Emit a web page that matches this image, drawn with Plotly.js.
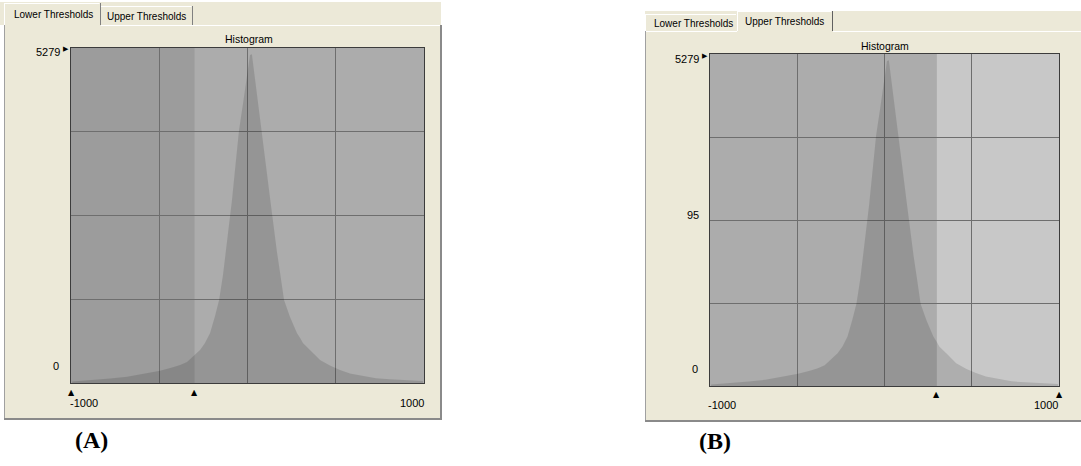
<!DOCTYPE html>
<html>
<head>
<meta charset="utf-8">
<script src="https://cdn.plot.ly/plotly-3.0.1.min.js"></script>
<style>
  html, body { margin: 0; padding: 0; background: #ffffff; }
  #chart { width: 1081px; height: 466px; }
</style>
</head>
<body>
<div id="chart"></div>
<script>
// ---------------- data ----------------
const histValue = [-994, -875, -779, -683, -581, -496, -428, -382, -343, -303, -269, -241, -212, -184, -161, -139, -122, -99, -88, -71, -48, -25, -3, 14, 25, 42, 59, 82, 105, 127, 144, 167, 184, 207, 241, 280, 300, 314, 354, 411, 467, 524, 581, 637, 728, 807, 892, 994];
const histCount = [24, 47, 71, 99, 150, 194, 244, 284, 331, 425, 520, 630, 788, 1056, 1308, 1702, 2096, 2569, 2884, 3357, 3987, 4413, 4854, 5169, 5180, 4822, 4460, 3987, 3420, 2931, 2537, 2065, 1749, 1308, 1040, 788, 700, 630, 520, 362, 276, 205, 150, 118, 74, 58, 44, 32];

const xRange = [-1000, 1000];
const yAxisMax = 5279;
const xTickLabels = ['-1000', '1000'];
const yTickLabelsA = ['5279', '0'];
const yTickLabelsB = ['5279', '95', '0'];
const lowerThresholds = [-1000, -300];
const upperThresholds = [300, 1000];
const tabLabels = ['Lower Thresholds', 'Upper Thresholds'];
const chartTitle = 'Histogram';
const panelLabels = ['(A)', '(B)'];

// ---------------- layout helpers ----------------
const W = 1081, H = 466;
const fx = p => p / W;
const fy = p => 1 - p / H;

const BEIGE = '#ece9d8';
const GRID = '#6e6e6e';
const FRAME = '#3c3c3c';
const HISTFILL = 'rgba(0,0,0,0.13)';
const UI_FONT = 'Liberation Sans, Arial, sans-serif';
const SYM_FONT = 'DejaVu Sans, sans-serif';
const SERIF_FONT = 'Liberation Serif';

function histTrace(xa, ya) {
  return {
    type: 'scatter', mode: 'lines',
    x: histValue, y: histCount,
    xaxis: xa, yaxis: ya,
    fill: 'tozeroy', fillcolor: HISTFILL,
    line: { width: 0, color: 'rgba(0,0,0,0)' },
    hoverinfo: 'skip'
  };
}

function xAxis(dom, anchor) {
  return {
    domain: dom, range: xRange, anchor: anchor,
    tickvals: [-500, 0, 500], showticklabels: false, ticks: '',
    showgrid: true, gridcolor: GRID, gridwidth: 1, zeroline: false,
    showline: true, mirror: true, linecolor: FRAME, linewidth: 1, fixedrange: true
  };
}
function yAxis(dom, anchor) {
  return {
    domain: dom, range: [0, yAxisMax], anchor: anchor,
    tickvals: [0.25, 0.5, 0.75].map(f => f * yAxisMax), showticklabels: false, ticks: '',
    showgrid: true, gridcolor: GRID, gridwidth: 1, zeroline: false,
    showline: true, mirror: true, linecolor: FRAME, linewidth: 1, fixedrange: true
  };
}

function rectPx(x0, y0, x1, y1, color) {
  return { type: 'rect', xref: 'paper', yref: 'paper', layer: 'below',
    x0: fx(x0), x1: fx(x1), y0: fy(y1), y1: fy(y0),
    fillcolor: color, line: { width: 0 } };
}
function linePx(x0, y0, x1, y1, color, w) {
  return { type: 'line', xref: 'paper', yref: 'paper', layer: 'below',
    x0: fx(x0), x1: fx(x1), y0: fy(y0), y1: fy(y1),
    line: { color: color, width: w || 1 } };
}

const shapes = [
  // panel A background + tab strip
  rectPx(0, 2, 441, 25, BEIGE),
  rectPx(4, 25, 441, 419, BEIGE),
  // panel B background + tab strip
  rectPx(645, 11, 1081, 31, BEIGE),
  rectPx(645, 31, 1081, 421, BEIGE),
  // plot areas
  { type: 'rect', xref: 'x domain', yref: 'y domain', layer: 'below', x0: 0, x1: 1, y0: 0, y1: 1, fillcolor: '#acacac', line: { width: 0 } },
  { type: 'rect', xref: 'x2 domain', yref: 'y2 domain', layer: 'below', x0: 0, x1: 1, y0: 0, y1: 1, fillcolor: '#acacac', line: { width: 0 } },
  // threshold regions
  { type: 'rect', xref: 'x', yref: 'y domain', layer: 'below', x0: lowerThresholds[0], x1: lowerThresholds[1], y0: 0, y1: 1, fillcolor: '#9c9c9c', line: { width: 0 } },
  { type: 'rect', xref: 'x2', yref: 'y2 domain', layer: 'below', x0: upperThresholds[0], x1: upperThresholds[1], y0: 0, y1: 1, fillcolor: '#c8c8c8', line: { width: 0 } },
  // panel A tabs and border
  linePx(4.5, 3, 4.5, 25, '#ffffff'),
  linePx(4, 3.5, 99.5, 3.5, '#ffffff'),
  linePx(100.5, 3, 100.5, 25, '#808080'),
  linePx(101, 6.5, 191.5, 6.5, '#ffffff'),
  linePx(192.5, 6, 192.5, 25, '#808080'),
  linePx(101, 25.5, 441, 25.5, '#ffffff'),
  linePx(4.5, 25, 4.5, 419, '#a0a0a0'),
  linePx(4, 419, 441, 419, '#8a8a8a', 2),
  linePx(441, 25, 441, 420, '#8a8a8a', 2),
  // panel B tabs and border
  linePx(645.5, 14, 645.5, 31, '#ffffff'),
  linePx(645, 14.5, 736, 14.5, '#ffffff'),
  linePx(737.5, 11, 737.5, 31, '#ffffff'),
  linePx(737, 11.5, 831.5, 11.5, '#ffffff'),
  linePx(832.5, 11, 832.5, 31, '#606060'),
  linePx(645, 31.5, 737, 31.5, '#ffffff'),
  linePx(833, 31.5, 1081, 31.5, '#ffffff'),
  linePx(645.5, 31, 645.5, 421, '#a0a0a0'),
  linePx(645, 421, 1081, 421, '#8a8a8a', 2)
];

function txt(text, x, y, xanchor, size, family) {
  return {
    text: text, xref: 'paper', yref: 'paper', x: fx(x), y: fy(y),
    xanchor: xanchor, yanchor: 'middle', showarrow: false, borderpad: 0,
    font: { family: family || UI_FONT, size: size, color: '#000000' }
  };
}
function tri(val, xref, y) {
  return {
    text: '▲', xref: xref, yref: 'paper', x: val, y: fy(y),
    xanchor: 'center', yanchor: 'middle', showarrow: false, borderpad: 0,
    font: { family: SYM_FONT, size: 8, color: '#000000' }
  };
}

const annotations = [
  // tabs
  txt(tabLabels[0], 53, 15, 'center', 10),
  txt(tabLabels[1], 146.5, 16.5, 'center', 10),
  txt(tabLabels[0], 693, 23.5, 'center', 10),
  txt(tabLabels[1], 784.5, 21.5, 'center', 10),
  // titles
  txt(chartTitle, 248.5, 39.5, 'center', 10.5),
  txt(chartTitle, 885, 46, 'center', 10.5),
  // y labels A
  txt(yTickLabelsA[0], 61, 52, 'right', 11),
  txt(yTickLabelsA[1], 60, 366, 'right', 11),
  // y labels B
  txt(yTickLabelsB[0], 700, 58.5, 'right', 11),
  txt(yTickLabelsB[1], 700, 215, 'right', 11),
  txt(yTickLabelsB[2], 699, 369, 'right', 11),
  // x labels
  txt(xTickLabels[0], 69, 403, 'left', 11),
  txt(xTickLabels[1], 425, 403, 'right', 11),
  txt(xTickLabels[0], 707, 405, 'left', 11),
  txt(xTickLabels[1], 1059, 405, 'right', 11),
  // max markers
  txt('▶', 66, 49, 'center', 7, SYM_FONT),
  txt('▶', 705, 55.5, 'center', 7, SYM_FONT),
  // threshold markers
  tri(lowerThresholds[0], 'x', 392),
  tri(lowerThresholds[1], 'x', 392),
  tri(upperThresholds[0], 'x2', 394),
  tri(upperThresholds[1], 'x2', 394),
  // panel labels
  txt('<b>' + panelLabels[0] + '</b>', 91, 440, 'center', 24, SERIF_FONT),
  txt('<b>' + panelLabels[1] + '</b>', 715, 441, 'center', 24, SERIF_FONT)
];

const layout = {
  width: W, height: H,
  margin: { l: 0, r: 0, t: 0, b: 0 },
  paper_bgcolor: '#ffffff', plot_bgcolor: 'rgba(0,0,0,0)',
  showlegend: false, hovermode: false,
  xaxis: xAxis([fx(71), fx(424)], 'y'),
  yaxis: yAxis([fy(383), fy(48)], 'x'),
  xaxis2: xAxis([fx(710), fx(1059)], 'y2'),
  yaxis2: yAxis([fy(386), fy(54)], 'x2'),
  shapes: shapes,
  annotations: annotations
};

Plotly.newPlot('chart', [histTrace('x', 'y'), histTrace('x2', 'y2')], layout, { staticPlot: true, displayModeBar: false });
</script>
</body>
</html>
